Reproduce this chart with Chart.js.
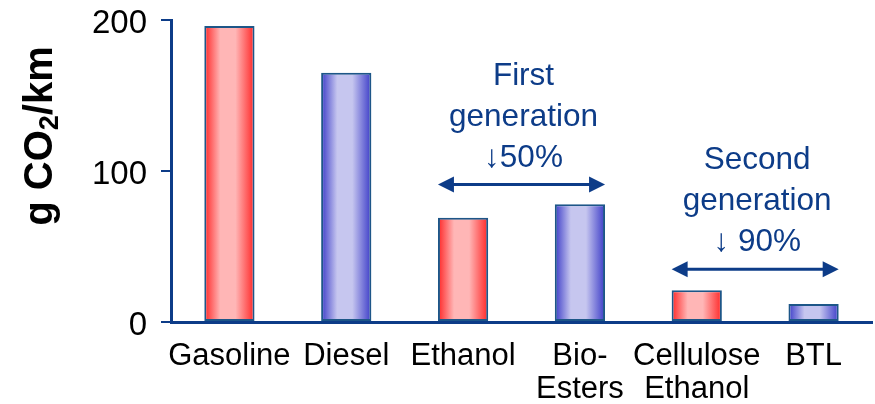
<!DOCTYPE html>
<html>
<head>
<meta charset="utf-8">
<script src="https://cdn.jsdelivr.net/npm/chart.js@4/dist/chart.umd.min.js"></script>
<style>
  html, body { margin: 0; padding: 0; background: #fff; }
  #wrap { width: 875px; height: 404px; }
</style>
</head>
<body>
<div id="wrap"><canvas id="co2"></canvas></div>
<script>
// values
const categories = [['Gasoline'], ['Diesel'], ['Ethanol'], ['Bio-', 'Esters'], ['Cellulose', 'Ethanol'], ['BTL']];
const emissions = [196, 165, 69, 78, 21, 12];
const barKinds = ['red', 'blue', 'red', 'blue', 'red', 'blue'];
const yTicks = [0, 100, 200];
const yTitle = ['g CO', '2', '/km'];

// the two "generation" brackets: from bar index, to bar index, height in g CO2/km
const groupFrom = [2, 4];
const groupTo = [3, 5];
const groupLevel = [91, 35];
const groupText = [['First', 'generation', '\u219350%'], ['Second', 'generation', '\u2193 90%']];

const navy = '#0d3c88';
const BAR_FRAC = 0.43;
const FONT = '"Liberation Sans", Arial, sans-serif';

const gradStops = {
    red:  ['#ff2626', '#ffb6b6', '#ffb6b6', '#ff2626'],
    blue: ['#3c3cc8', '#c6c6ef', '#c6c6ef', '#3c3cc8']
};

function barFill(c) {
    const chart = c.chart;
    if (!chart.chartArea || c.dataIndex === undefined) return '#ccc';
    const x = chart.scales.x;
    const cx = x.getPixelForValue(c.dataIndex);
    const w = x.width / categories.length * BAR_FRAC;
    const g = chart.ctx.createLinearGradient(cx - w / 2, 0, cx + w / 2, 0);
    const s = gradStops[barKinds[c.dataIndex]];
    g.addColorStop(0, s[0]);
    g.addColorStop(0.32, s[1]);
    g.addColorStop(0.62, s[2]);
    g.addColorStop(1, s[3]);
    return g;
}

// draws the rotated axis title with a real subscript
const titlePlugin = {
    id: 'ytitle',
    afterDraw(chart) {
        const ctx = chart.ctx;
        ctx.save();
        ctx.translate(41, 136);
        ctx.rotate(-Math.PI / 2);
        ctx.fillStyle = '#000';
        ctx.textBaseline = 'middle';
        const big = 'bold 40px ' + FONT;
        const small = 'bold 27px ' + FONT;
        ctx.font = big;
        const w1 = ctx.measureText(yTitle[0]).width;
        const w3 = ctx.measureText(yTitle[2]).width;
        ctx.font = small;
        const w2 = ctx.measureText(yTitle[1]).width;
        let x = -(w1 + w2 + w3) / 2;
        ctx.textAlign = 'left';
        ctx.font = big;
        ctx.fillText(yTitle[0], x, 0);
        x += w1;
        ctx.font = small;
        ctx.fillText(yTitle[1], x, 10);
        x += w2;
        ctx.font = big;
        ctx.fillText(yTitle[2], x, 0);
        ctx.restore();
    }
};

// double-headed arrows with text above them
const bracketPlugin = {
    id: 'brackets',
    afterDatasetsDraw(chart) {
        const ctx = chart.ctx;
        const x = chart.scales.x, y = chart.scales.y;
        const half = x.width / categories.length * BAR_FRAC / 2;
        ctx.save();
        for (let i = 0; i < groupFrom.length; i++) {
            const x0 = x.getPixelForValue(groupFrom[i]) - half;
            const x1 = x.getPixelForValue(groupTo[i]) + half;
            const yy = y.getPixelForValue(groupLevel[i]);
            ctx.strokeStyle = navy;
            ctx.fillStyle = navy;
            ctx.lineWidth = 3;
            ctx.beginPath();
            ctx.moveTo(x0 + 10, yy);
            ctx.lineTo(x1 - 10, yy);
            ctx.stroke();
            ctx.beginPath();
            ctx.moveTo(x0, yy);
            ctx.lineTo(x0 + 16, yy - 8);
            ctx.lineTo(x0 + 16, yy + 8);
            ctx.closePath();
            ctx.fill();
            ctx.beginPath();
            ctx.moveTo(x1, yy);
            ctx.lineTo(x1 - 16, yy - 8);
            ctx.lineTo(x1 - 16, yy + 8);
            ctx.closePath();
            ctx.fill();

            ctx.font = '31.5px ' + FONT;
            ctx.textAlign = 'center';
            ctx.textBaseline = 'alphabetic';
            const lines = groupText[i];
            const mid = (x0 + x1) / 2;
            for (let k = 0; k < lines.length; k++) {
                const off = 18 + (lines.length - 1 - k) * 41;
                ctx.fillText(lines[k], mid + 2, yy - off);
            }
        }
        ctx.restore();
    }
};

document.addEventListener("DOMContentLoaded", function() {
    const ctx = document.getElementById('co2').getContext('2d');
    new Chart(ctx, {
        type: 'bar',
        data: {
            labels: categories,
            datasets: [{
                data: emissions,
                backgroundColor: barFill,
                borderColor: '#1d5688',
                borderWidth: 2,
                borderSkipped: false,
                categoryPercentage: 1,
                barPercentage: BAR_FRAC
            }]
        },
        options: {
            responsive: true,
            maintainAspectRatio: false,
            animation: false,
            layout: { padding: { top: 20, right: 3, left: 0, bottom: 0 } },
            plugins: {
                legend: { display: false },
                tooltip: { enabled: false }
            },
            scales: {
                x: {
                    grid: { display: false },
                    border: { display: true, color: navy, width: 3 },
                    ticks: {
                        color: '#000',
                        padding: 10,
                        maxRotation: 0,
                        autoSkip: false,
                        font: { family: FONT, size: 31, lineHeight: 1.06 }
                    },
                    afterFit(scale) {
                        scale.height = 82;
                        scale.paddingLeft = 0;
                        scale.paddingRight = 0;
                    }
                },
                y: {
                    min: 0,
                    max: 200,
                    afterBuildTicks(scale) { scale.ticks = yTicks.map(v => ({ value: v })); },
                    grid: { drawOnChartArea: false, color: navy, lineWidth: 2, tickLength: 10 },
                    border: { display: true, color: navy, width: 3 },
                    ticks: {
                        color: '#000',
                        padding: 14,
                        labelOffset: 4,
                        font: { family: FONT, size: 33 }
                    },
                    afterFit(scale) {
                        scale.width = 171;
                        scale.paddingTop = 0;
                        scale.paddingBottom = 0;
                    }
                }
            }
        },
        plugins: [titlePlugin, bracketPlugin]
    });
});
</script>
</body>
</html>
